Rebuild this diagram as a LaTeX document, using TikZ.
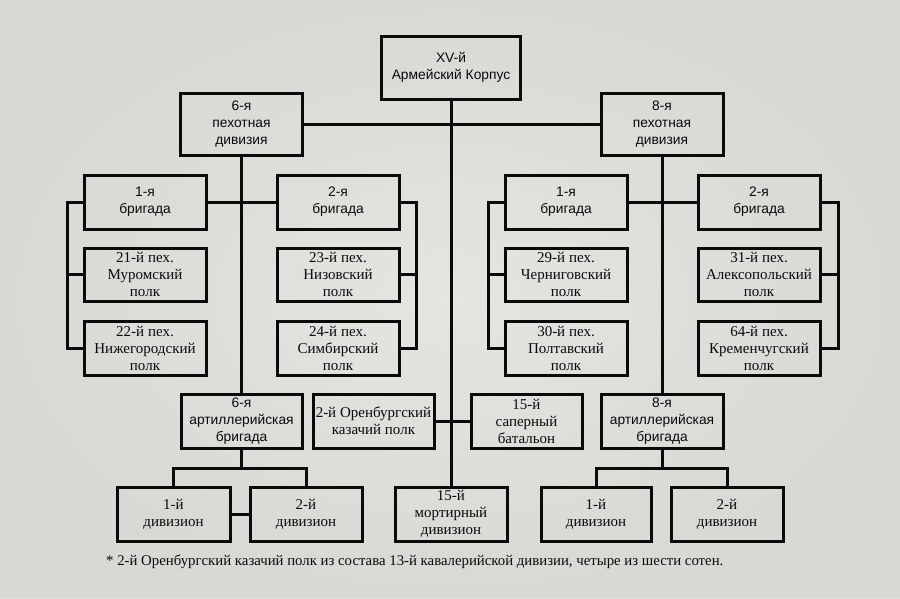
\documentclass[tikz,border=0pt]{standalone}
\usepackage{fontspec}
\setmainfont{Liberation Serif}
\newfontfamily\sansf{Liberation Sans}
\definecolor{paper}{RGB}{230,229,226}
\definecolor{paperdark}{RGB}{214,213,210}
\definecolor{ink}{RGB}{10,10,10}
\begin{document}
\begin{tikzpicture}[x=1pt,y=-1pt,
  box/.style={draw=ink, line width=3pt, inner sep=1pt, outer sep=0pt, align=center, text=ink},
  sbox/.style={box, font=\sansf\fontsize{13.8}{17}\selectfont},
  rbox/.style={box, font=\fontsize{15}{17}\selectfont},
  conn/.style={draw=ink, line width=3pt, line join=miter}
]
\useasboundingbox (0,0) rectangle (900,598);
\fill[paper] (0,0) rectangle (900,598);
\shade[inner color=paper, outer color=paperdark, opacity=0.8] (0,0) rectangle (900,598);

% top level
\node[sbox, minimum width=139pt, minimum height=63pt] (xv) at (451,67.5) {XV-й\\Армейский Корпус};
\node[sbox, minimum width=122pt, minimum height=62pt] (d6) at (241.5,124) {6-я\\пехотная\\дивизия};
\node[sbox, minimum width=122pt, minimum height=62pt] (d8) at (662,124) {8-я\\пехотная\\дивизия};

% brigades
\node[sbox, minimum width=122pt, minimum height=54pt] (b1l) at (145,202) {1-я\\бригада};
\node[sbox, minimum width=122pt, minimum height=54pt] (b2l) at (338,202) {2-я\\бригада};
\node[sbox, minimum width=122pt, minimum height=54pt] (b1r) at (566,202) {1-я\\бригада};
\node[sbox, minimum width=122pt, minimum height=54pt] (b2r) at (759,202) {2-я\\бригада};

% regiments
\node[rbox, minimum width=122pt, minimum height=53pt] (r21) at (145,274.5) {21-й пех.\\Муромский\\полк};
\node[rbox, minimum width=122pt, minimum height=54pt] (r22) at (145,348) {22-й пех.\\Нижегородский\\полк};
\node[rbox, minimum width=122pt, minimum height=53pt] (r23) at (338,274.5) {23-й пех.\\Низовский\\полк};
\node[rbox, minimum width=122pt, minimum height=54pt] (r24) at (338,348) {24-й пех.\\Симбирский\\полк};
\node[rbox, minimum width=122pt, minimum height=53pt] (r29) at (566,274.5) {29-й пех.\\Черниговский\\полк};
\node[rbox, minimum width=122pt, minimum height=54pt] (r30) at (566,348) {30-й пех.\\Полтавский\\полк};
\node[rbox, minimum width=122pt, minimum height=53pt] (r31) at (759,274.5) {31-й пех.\\Алексопольский\\полк};
\node[rbox, minimum width=122pt, minimum height=54pt] (r64) at (759,348) {64-й пех.\\Кременчугский\\полк};

% artillery etc.
\node[sbox, minimum width=121pt, minimum height=54pt] (a6) at (241.5,421) {6-я\\артиллерийская\\бригада};
\node[rbox, minimum width=121pt, minimum height=54pt] (oren) at (373.5,421) {2-й Оренбургский\\казачий полк};
\node[rbox, minimum width=111pt, minimum height=54pt] (sap) at (526.5,421) {15-й\\саперный\\батальон};
\node[sbox, minimum width=122pt, minimum height=54pt] (a8) at (662,421) {8-я\\артиллерийская\\бригада};

% divisions
\node[rbox, minimum width=113pt, minimum height=54pt] (v1l) at (173.5,514) {1-й\\дивизион};
\node[rbox, minimum width=112pt, minimum height=54pt] (v2l) at (306,514) {2-й\\дивизион};
\node[rbox, minimum width=112pt, minimum height=54pt] (mort) at (451,514) {15-й\\мортирный\\дивизион};
\node[rbox, minimum width=110pt, minimum height=54pt] (v1r) at (596,514) {1-й\\дивизион};
\node[rbox, minimum width=112pt, minimum height=54pt] (v2r) at (727,514) {2-й\\дивизион};

% footnote
\node[anchor=west, inner sep=0pt, text=ink, font=\fontsize{14.8}{17}\selectfont] (fn) at (106,562)
  {* 2-й Оренбургский казачий полк из состава 13-й кавалерийской дивизии, четыре из шести сотен.};

% connectors
\coordinate (a6b) at (241.5,468);
\coordinate (a8b) at (662,468);
\coordinate (lbl) at (67,202);
\coordinate (lbr) at (416,202);
\coordinate (rbl) at (488,202);
\coordinate (rbr) at (838,202);

\draw[conn] (xv.south) -- (mort.north);
\draw[conn] (d6.east) -- (d8.west);
\draw[conn] (d6.south) -- (a6.north);
\draw[conn] (d8.south) -- (a8.north);
\draw[conn] (b1l.east) -- (b2l.west);
\draw[conn] (b1r.east) -- (b2r.west);

\draw[conn] (b1l.west) -- (lbl) |- (r22.west);
\draw[conn] (r21.west) -- (lbl |- r21.west);
\draw[conn] (b2l.east) -- (lbr) |- (r24.east);
\draw[conn] (r23.east) -- (lbr |- r23.east);
\draw[conn] (b1r.west) -- (rbl) |- (r30.west);
\draw[conn] (r29.west) -- (rbl |- r29.west);
\draw[conn] (b2r.east) -- (rbr) |- (r64.east);
\draw[conn] (r31.east) -- (rbr |- r31.east);

\draw[conn] (oren.east) -- (sap.west);

\draw[conn] (a6.south) -- (a6b);
\draw[conn] (v1l.north) |- (a6b) -| (v2l.north);
\draw[conn] (v1l.east) -- (v2l.west);
\draw[conn] (a8.south) -- (a8b);
\draw[conn] (v1r.north) |- (a8b) -| (v2r.north);
\end{tikzpicture}
\end{document}
